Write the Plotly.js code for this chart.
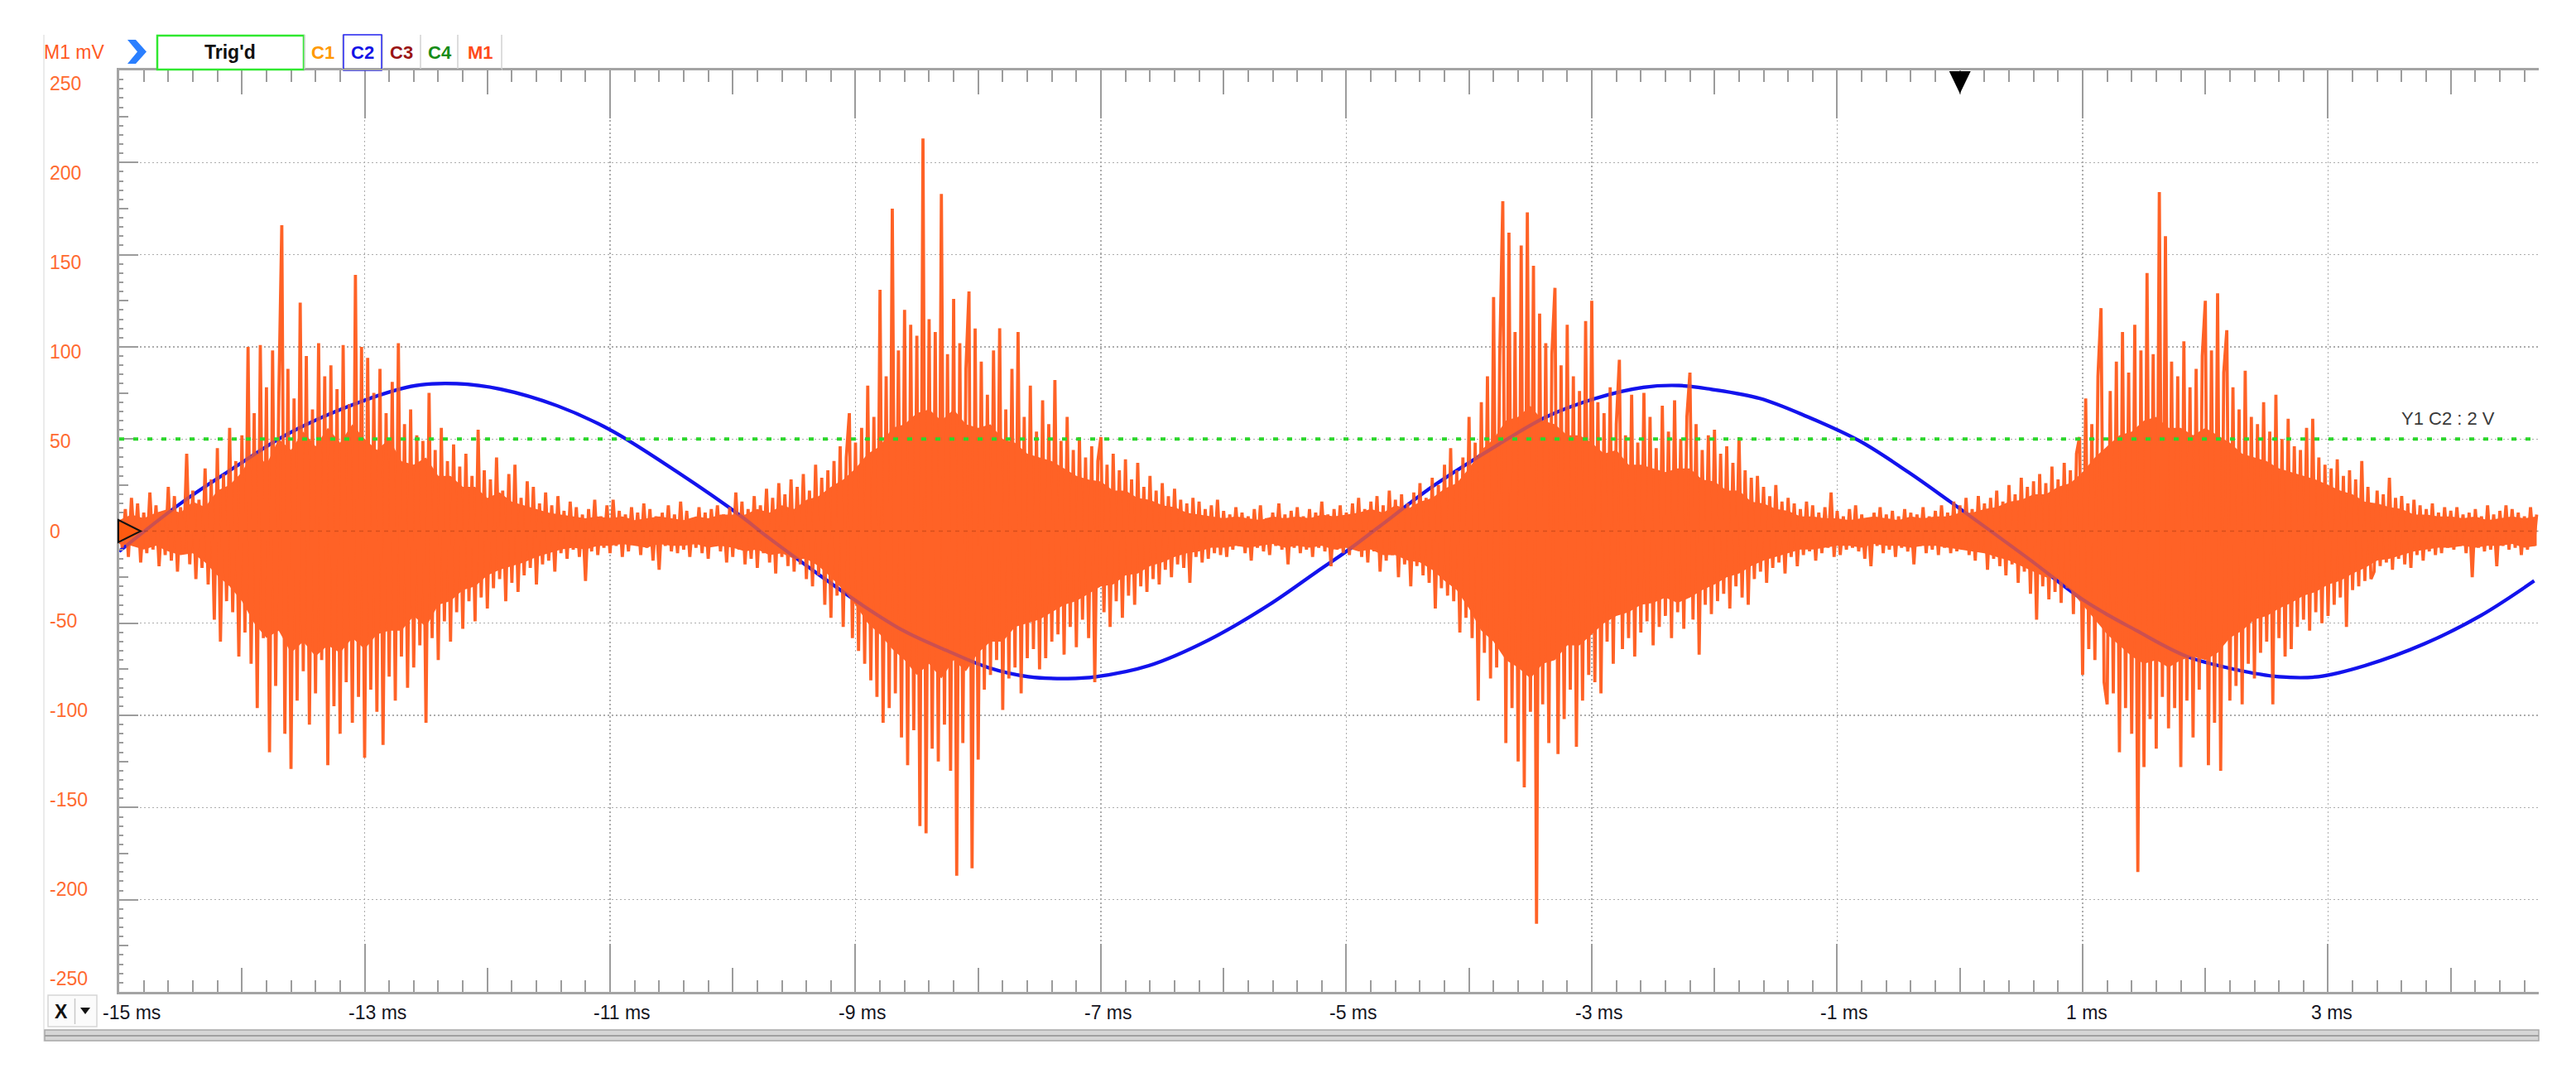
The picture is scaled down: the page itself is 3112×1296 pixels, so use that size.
<!DOCTYPE html>
<html>
<head>
<meta charset="utf-8">
<script src="https://cdn.plot.ly/plotly-3.0.1.min.js"></script>
<style>
  html, body { margin: 0; padding: 0; background: #ffffff; }
  #chart { width: 3112px; height: 1296px; }
</style>
</head>
<body>
<div id="chart"></div>
<script>
// ---------------- DATA ----------------
// Time axis (ms) ticks with labels
const xTickValues = [-15, -13, -11, -9, -7, -5, -3, -1, 1, 3];
const xTickLabels = ['-15 ms', '-13 ms', '-11 ms', '-9 ms', '-7 ms', '-5 ms', '-3 ms', '-1 ms', '1 ms', '3 ms'];
// M1 axis (mV) ticks with labels
const yTickValues = [250, 200, 150, 100, 50, 0, -50, -100, -150, -200, -250];
const yTickLabels = ['250', '200', '150', '100', '50', '0', '-50', '-100', '-150', '-200', '-250'];

const c2Time = [-15, -14.5, -14.05, -13.62, -13.0, -12.58, -12.25, -11.89, -11.43, -11.0,
  -10.45, -9.93, -9.72, -9.29, -8.97, -8.61, -8.25, -7.92, -7.59, -7.27,
  -7.04, -6.61, -6.12, -5.63, -5.24, -5.0, -4.74, -4.28, -3.76, -3.37,
  -2.97, -2.58, -2.29, -2.03, -1.63, -1.24, -0.82, -0.42, -0.08, 0.56,
  1.02, 1.44, 1.85, 2.24, 2.6, 2.92, 3.3, 3.79, 4.24, 4.68];
const c2Values = [-11, 15, 35, 53, 71, 79, 80, 77, 68, 55,
  32, 8, -3, -24, -39, -54, -65, -74, -79, -80,
  -79, -73, -59, -40, -22, -11, 2, 25, 47, 62,
  72, 78, 79, 77, 72, 62, 49, 32, 16, -15,
  -38, -54, -68, -75, -79, -79, -73, -61, -46, -27];

// Math channel M1 (orange, mV), individual spikes read every 0.025 ms starting at -15 ms
const m1Start = -15;
const m1Step = 0.025;
const m1Values = [
  // -15 ms
  4,-9,12,-14,18,-8,15,-17,10,-12,21,-10,14,-19,9,-13,24,-16,19,-22,13,-11,42,-18,22,-26,17,-20,34,-29,28,-48,45,-60,31,-38,56,-44,38,-68,
  // -14 ms
  52,-55,100,-72,64,-96,101,-58,78,-120,98,-84,70,166,-110,88,-129,72,-92,124,-76,95,-105,66,-88,102,-70,84,-127,90,-95,77,-110,101,-82,69,-104,139,-90,100,
  // -13 ms
  -123,94,-86,75,-98,88,-116,64,-79,81,-92,102,-68,58,-85,66,-74,52,-62,49,-104,75,-58,44,-70,56,-49,38,-60,47,-44,35,-53,42,-38,30,-49,55,-36,33,
  // -12 ms
  -42,28,-31,40,-26,22,-38,31,-28,36,-33,18,-24,27,-20,24,-29,15,-18,21,-16,14,-22,19,-12,11,-15,16,-10,13,-14,9,-27,12,-11,17,-13,8,-9,14,
  // -11 ms
  -12,17,-8,11,-14,9,-11,13,-7,10,-13,15,-9,12,-16,8,-21,10,-8,14,-11,9,-12,16,-10,11,-14,7,-9,13,-12,10,-15,12,-8,14,-11,9,-17,13,
  // -10 ms
  -14,21,-10,16,-18,12,-15,19,-20,14,-12,23,-17,18,-23,26,-14,20,-19,28,-22,24,-18,31,-26,22,-30,36,-24,29,-40,33,-47,38,-35,46,-52,40,64,-58,
  // -9 ms
  48,-65,56,-72,79,-81,62,-90,131,-104,84,-96,175,-88,98,-112,120,-127,112,-108,106,-160,213,-164,115,-118,108,-125,183,-105,96,-130,126,-187,102,-115,88,130,-183,110,
  // -8 ms
  -124,92,-86,74,-78,98,-70,110,-97,66,-80,88,-74,108,-88,62,-69,79,-64,54,-75,71,-69,58,-60,82,-56,49,-67,62,-52,44,-63,51,-48,40,-58,46,-82,38,
  // -7 ms
  51,-44,36,-52,42,-38,33,-47,39,-35,28,-40,37,-30,24,-33,30,-26,22,-29,26,-21,19,-25,23,-18,17,-20,15,-28,18,-14,16,-17,12,-15,14,-12,17,-13,
  // -6 ms
  11,-14,9,-10,13,-8,10,-12,8,-16,12,-9,14,-11,7,-13,10,-8,15,-10,9,-18,11,-9,13,-12,8,-10,12,-14,10,-9,16,-11,9,-19,12,-10,14,-12,
  // -5 ms
  10,-13,15,-9,18,-14,12,-17,16,-11,19,-22,14,-16,22,-13,17,-25,20,-18,15,-30,21,-19,26,-24,18,-28,29,-42,25,-31,36,-35,45,-38,33,-55,40,-47,
  // -4 ms
  62,-58,48,-92,70,-66,84,-80,127,-74,95,179,-115,162,-96,108,-125,155,-139,173,-98,144,-213,118,-94,102,-115,96,132,-121,90,-102,112,-86,84,-117,76,-92,114,-78,
  // -3 ms
  125,-82,70,-88,64,-60,78,-72,58,93,-64,52,-58,74,-68,48,-55,75,-49,62,-62,45,-52,68,-46,54,-58,71,-44,50,-53,62,86,-48,58,-67,44,-40,52,-45,
  // -2 ms
  55,-38,42,-34,46,-42,37,-30,51,-36,33,-40,29,-26,30,-22,24,-28,19,-20,25,-17,16,-23,18,-14,15,-19,12,-13,16,-11,14,-16,10,-12,13,-9,21,-14,
  // -1 ms
  11,-13,8,-10,12,-9,14,-11,9,-15,7,-19,10,-8,13,-12,9,-10,11,-14,8,-9,12,-11,10,-18,9,-8,13,-12,8,-10,11,-13,14,-9,10,-12,16,-11,
  // 0 ms
  14,-10,18,-13,12,-16,19,-11,15,-21,18,-15,22,-19,16,-24,25,-18,20,-28,29,-22,24,-34,27,-48,31,-30,26,-37,35,-33,28,-39,37,-31,33,-45,42,51,
  // 1 ms
  -78,72,-64,58,-70,84,121,-82,-94,76,-88,92,-120,108,-96,86,-110,112,-185,98,-128,140,-102,96,-118,184,-90,160,-107,92,-96,84,-128,103,-92,78,-112,88,-86,95,
  // 2 ms
  125,-127,98,-104,129,-130,86,109,-92,78,-84,66,-94,87,-72,62,-80,58,-66,70,-60,54,-94,74,-58,50,-68,61,-64,46,-52,44,-48,56,-54,61,-44,40,-50,36,
  // 3 ms
  -46,34,-40,39,-36,30,-52,33,-32,28,-30,38,-27,24,-26,-22,22,-19,20,-17,29,-21,18,-15,19,-18,15,-20,17,-13,14,-16,12,-11,15,-13,10,-12,13,-9,
  // 4 ms
  11,-10,13,-8,9,-12,10,-25,12,-9,8,-11,14,-10,9,-19,11,-8,14,-10,12,-9,10,-13,8,-10,13,-8,9
];

// Solid (densely sampled) part of M1, upper and lower edge read every 0.1 ms from -15 ms (mV)
const m1BandStart = -15;
const m1BandStep = 0.1;
const m1BandUpper = [
  6, 9, 7, 10, 12, 10, 16, 13, 22, 25,
  32, 44, 36, 50, 44, 54, 46, 56, 48, 58,
  50, 44, 50, 38, 36, 40, 30, 30, 24, 24,
  18, 21, 16, 14, 12, 10, 9, 8, 7, 8,
  7, 8, 6, 7, 8, 7, 6, 8, 7, 9,
  9, 9, 12, 10, 14, 12, 17, 19, 24, 28,
  34, 42, 46, 56, 58, 64, 66, 60, 66, 58,
  56, 58, 50, 48, 42, 40, 38, 34, 30, 28,
  27, 22, 22, 18, 17, 14, 13, 10, 9, 8,
  7, 8, 7, 6, 8, 7, 8, 7, 9, 8,
  9, 10, 12, 10, 14, 12, 16, 18, 23, 26,
  34, 44, 50, 60, 62, 68, 60, 58, 52, 52,
  48, 42, 44, 36, 36, 34, 32, 34, 34, 28,
  27, 22, 22, 16, 15, 12, 11, 8, 8, 7,
  7, 6, 7, 8, 7, 6, 8, 7, 8, 8,
  10, 10, 12, 13, 16, 17, 20, 20, 24, 26,
  32, 40, 46, 52, 54, 60, 62, 56, 56, 52,
  56, 52, 48, 42, 40, 38, 34, 32, 30, 28,
  25, 22, 20, 16, 15, 13, 12, 9, 9, 8,
  8, 7, 8, 6, 7, 8, 7, 8];
const m1BandLower = [
  -7, -8, -10, -8, -11, -13, -12, -17, -24, -30,
  -38, -50, -58, -54, -66, -60, -68, -62, -66, -58,
  -64, -56, -54, -54, -46, -52, -40, -38, -32, -30,
  -24, -21, -19, -17, -14, -12, -10, -9, -10, -8,
  -8, -7, -8, -9, -7, -8, -8, -7, -9, -8,
  -9, -11, -10, -13, -12, -15, -15, -19, -25, -32,
  -40, -50, -56, -64, -70, -78, -72, -80, -70, -76,
  -66, -60, -60, -52, -50, -48, -44, -40, -38, -34,
  -30, -29, -24, -23, -19, -17, -14, -12, -11, -9,
  -9, -8, -9, -8, -7, -9, -8, -9, -8, -10,
  -9, -11, -10, -13, -13, -16, -17, -21, -27, -32,
  -42, -54, -60, -70, -74, -80, -72, -70, -62, -62,
  -56, -50, -46, -44, -40, -39, -36, -39, -36, -32,
  -29, -25, -23, -19, -16, -14, -12, -10, -10, -9,
  -8, -8, -9, -7, -8, -8, -9, -8, -8, -9,
  -10, -11, -12, -14, -16, -19, -22, -25, -26, -32,
  -40, -48, -56, -62, -68, -72, -70, -74, -70, -68,
  -70, -66, -58, -54, -48, -46, -42, -39, -35, -33,
  -29, -27, -23, -20, -16, -15, -13, -11, -10, -9,
  -9, -8, -9, -8, -8, -7, -9, -8];

// Cursors / markers
const cursorLevel = 50;            // Y1 cursor level on the M1 scale
const cursorLabel = 'Y1 C2 : 2 V';
const triggerTime = 0;             // trigger position (ms)
const m1Offset = 0;                // M1 ground reference level
const toolbarTabs = ['C1', 'C2', 'C3', 'C4', 'M1'];
const tabColors = ['#FF9900', '#1414E6', '#9A1414', '#168C16', '#FF4A1A'];

// ---------------- LAYOUT HELPERS ----------------
const W = 3112, H = 1296;
const PL = 144, PR = 3067, PT = 85, PB = 1198;
const px2x = px => (px - PL) / (PR - PL);
const py2y = py => (PB - py) / (PB - PT);
const pathPx = pts => 'M' + pts.map(p => px2x(p[0]).toFixed(5) + ',' + py2y(p[1]).toFixed(5)).join(' L') + ' Z';
const FONT = 'Liberation Sans, Arial, sans-serif';
const TICK_COL = '#9c9c9c';
const X_RANGE = [-15, 4.717];
const Y_RANGE = [-250, 250];
const M1_COLOR = '#FF6226';
const C2_COLOR = '#1414EE';

// ---------------- TRACES ----------------
const traces = [
  { // C2 sine
    type: 'scatter', mode: 'lines', name: 'C2',
    x: c2Time, y: c2Values, xaxis: 'x', yaxis: 'y',
    line: { color: C2_COLOR, width: 4.2, shape: 'spline', smoothing: 1 },
    hoverinfo: 'skip'
  },
  { // M1 dense band, lower edge
    type: 'scatter', mode: 'lines', name: 'M1 band low',
    x0: m1BandStart, dx: m1BandStep, y: m1BandLower, xaxis: 'x', yaxis: 'y',
    line: { width: 0, color: M1_COLOR }, hoverinfo: 'skip'
  },
  { // M1 dense band, upper edge
    type: 'scatter', mode: 'lines', name: 'M1 band high',
    x0: m1BandStart, dx: m1BandStep, y: m1BandUpper, xaxis: 'x', yaxis: 'y',
    line: { width: 0, color: M1_COLOR }, fill: 'tonexty', fillcolor: M1_COLOR, hoverinfo: 'skip'
  },
  { // M1 samples
    type: 'scatter', mode: 'lines', name: 'M1',
    x0: m1Start, dx: m1Step, y: m1Values, xaxis: 'x', yaxis: 'y',
    line: { color: M1_COLOR, width: 3.8, simplify: false },
    hoverinfo: 'skip'
  },
  { // C2 seen through the M1 trace
    type: 'scatter', mode: 'lines', name: 'C2 overlay',
    x: c2Time, y: c2Values, xaxis: 'x2', yaxis: 'y2',
    line: { color: C2_COLOR, width: 4.2, shape: 'spline', smoothing: 1 },
    opacity: 0.22,
    hoverinfo: 'skip'
  }
];

// ---------------- ANNOTATIONS ----------------
const annotations = [];
xTickValues.forEach((v, i) => {
  annotations.push({
    xref: 'x', yref: 'paper', x: v, y: py2y(1223),
    xanchor: 'left', yanchor: 'middle', xshift: -22,
    text: xTickLabels[i], showarrow: false,
    font: { family: FONT, size: 23, color: '#15151f' }
  });
});
yTickValues.forEach((v, i) => {
  annotations.push({
    xref: 'paper', yref: 'y', x: 0, y: v,
    xanchor: 'left', yanchor: 'middle', xshift: -86, yshift: -v * 0.063,
    text: yTickLabels[i], showarrow: false,
    font: { family: FONT, size: 23, color: '#FF6A30' }
  });
});
// M1 mV unit label
annotations.push({ xref: 'paper', yref: 'paper', x: px2x(90), y: py2y(63), xanchor: 'center', yanchor: 'middle',
  text: 'M1 mV', showarrow: false, font: { family: FONT, size: 23, color: '#FF5A1F' } });
// Trig'd
annotations.push({ xref: 'paper', yref: 'paper', x: px2x(278), y: py2y(63), xanchor: 'center', yanchor: 'middle',
  text: "<b>Trig'd</b>", showarrow: false, font: { family: FONT, size: 23, color: '#111111' } });
// channel tabs
const tabCenters = [390, 438, 485, 531, 580];
toolbarTabs.forEach((t, i) => {
  annotations.push({ xref: 'paper', yref: 'paper', x: px2x(tabCenters[i]), y: py2y(63), xanchor: 'center', yanchor: 'middle',
    text: '<b>' + t + '</b>', showarrow: false, font: { family: FONT, size: 22, color: tabColors[i] } });
});
// X button
annotations.push({ xref: 'paper', yref: 'paper', x: px2x(74), y: py2y(1222), xanchor: 'center', yanchor: 'middle',
  text: '<b>X</b>', showarrow: false, font: { family: FONT, size: 23, color: '#111111' } });
// cursor label
annotations.push({ xref: 'paper', yref: 'y', x: px2x(2957), y: cursorLevel, xanchor: 'center', yanchor: 'middle', yshift: 25,
  text: cursorLabel, showarrow: false, font: { family: FONT, size: 22, color: '#3a3a3a' } });

// ---------------- SHAPES ----------------
const shapes = [];
// faint panel border
shapes.push({ type: 'line', xref: 'paper', yref: 'paper', x0: px2x(53), x1: px2x(53), y0: py2y(42), y1: py2y(1258),
  line: { color: '#e4e4e4', width: 1.5 } });
// blue chevron
shapes.push({ type: 'path', xref: 'paper', yref: 'paper', layer: 'above',
  path: pathPx([[154, 48], [164, 48], [177, 62.5], [164, 77], [154, 77], [166, 62.5]]),
  fillcolor: '#2A7FFF', line: { width: 0 } });
// Trig'd box
shapes.push({ type: 'rect', xref: 'paper', yref: 'paper', x0: px2x(190), x1: px2x(367), y0: py2y(84), y1: py2y(43),
  fillcolor: '#ffffff', line: { color: '#30E830', width: 2.5 } });
// tab separators
[368, 414, 462, 508, 553, 606].forEach(px => {
  shapes.push({ type: 'line', xref: 'paper', yref: 'paper', x0: px2x(px), x1: px2x(px), y0: py2y(42), y1: py2y(85),
    line: { color: '#d2d2d2', width: 1.5 } });
});
// C2 selected tab
shapes.push({ type: 'rect', xref: 'paper', yref: 'paper', x0: px2x(415), x1: px2x(461), y0: py2y(85), y1: py2y(42),
  line: { color: '#2222EE', width: 1.5 } });
// tabs bottom line
shapes.push({ type: 'line', xref: 'paper', yref: 'paper', x0: px2x(367), x1: px2x(606), y0: py2y(84), y1: py2y(84),
  line: { color: '#a4a4a4', width: 2 } });
// X button
shapes.push({ type: 'rect', xref: 'paper', yref: 'paper', x0: px2x(58), x1: px2x(117), y0: py2y(1240), y1: py2y(1202),
  fillcolor: '#fbfbfb', line: { color: '#d6d6d6', width: 1.5 } });
shapes.push({ type: 'line', xref: 'paper', yref: 'paper', x0: px2x(90.5), x1: px2x(90.5), y0: py2y(1206), y1: py2y(1237),
  line: { color: '#c8c8c8', width: 1.5 } });
shapes.push({ type: 'path', xref: 'paper', yref: 'paper', path: pathPx([[97, 1217], [109, 1217], [103, 1225]]),
  fillcolor: '#111111', line: { width: 0 } });
// scrollbar
shapes.push({ type: 'rect', xref: 'paper', yref: 'paper', x0: px2x(54), x1: px2x(3067), y0: py2y(1257), y1: py2y(1244),
  fillcolor: '#d6d6d6', line: { color: '#a8a8a8', width: 1.5 } });
shapes.push({ type: 'line', xref: 'paper', yref: 'paper', x0: px2x(54), x1: px2x(3067), y0: py2y(1251), y1: py2y(1251),
  line: { color: '#a0a0a0', width: 2 } });
// Y1 cursor (green dotted)
shapes.push({ type: 'line', xref: 'paper', yref: 'y', x0: 0, x1: 1, y0: cursorLevel, y1: cursorLevel, layer: 'above',
  line: { color: '#2BD62B', width: 4, dash: '6px,11px' } });
// M1 ground reference (faint dashed)
shapes.push({ type: 'line', xref: 'paper', yref: 'y', x0: 0, x1: 1, y0: m1Offset, y1: m1Offset, layer: 'above',
  line: { color: 'rgba(110,30,0,0.28)', width: 1.5, dash: '5px,5px' } });
// trigger marker (top)
shapes.push({ type: 'path', xref: 'x', xsizemode: 'pixel', xanchor: triggerTime, yref: 'paper', layer: 'above',
  path: 'M-13,' + py2y(86).toFixed(5) + ' L13,' + py2y(86).toFixed(5) + ' L0,' + py2y(113).toFixed(5) + ' Z',
  fillcolor: '#000000', line: { width: 0 } });
// M1 offset marker (left)
shapes.push({ type: 'path', xref: 'paper', yref: 'y', ysizemode: 'pixel', yanchor: m1Offset, layer: 'above',
  path: 'M' + px2x(143).toFixed(5) + ',13.5 L' + px2x(170).toFixed(5) + ',0 L' + px2x(143).toFixed(5) + ',-13.5 Z',
  fillcolor: '#FF5A10', line: { color: '#111111', width: 2 } });

// ---------------- AXES ----------------
const layout = {
  width: W, height: H,
  margin: { l: PL, r: W - PR, t: PT, b: H - PB, pad: 0 },
  paper_bgcolor: '#ffffff', plot_bgcolor: '#ffffff',
  showlegend: false,
  font: { family: FONT, size: 23 },
  xaxis: {
    range: X_RANGE, tickmode: 'linear', tick0: -15, dtick: 2,
    ticks: 'inside', ticklen: 58, tickwidth: 2, tickcolor: TICK_COL,
    showticklabels: false,
    showgrid: true, gridcolor: '#adadad', gridwidth: 1.3, griddash: '2px,3px',
    showline: true, linecolor: '#a4a4a4', linewidth: 3, mirror: 'ticks',
    zeroline: false, fixedrange: true,
    minor: { tick0: -15, dtick: 0.2, ticks: 'inside', ticklen: 14, tickwidth: 2, tickcolor: TICK_COL, showgrid: false }
  },
  xaxis2: {
    overlaying: 'x', anchor: 'y', range: X_RANGE,
    tickmode: 'linear', tick0: -14, dtick: 2,
    ticks: 'inside', ticklen: 29, tickwidth: 2, tickcolor: TICK_COL,
    showticklabels: false, showgrid: false, zeroline: false,
    showline: true, linecolor: '#a4a4a4', linewidth: 3, mirror: 'ticks', fixedrange: true
  },
  yaxis: {
    range: Y_RANGE, tickmode: 'linear', tick0: 0, dtick: 50,
    ticks: 'inside', ticklen: 23, tickwidth: 2, tickcolor: TICK_COL,
    showticklabels: false,
    showgrid: true, gridcolor: '#adadad', gridwidth: 1.3, griddash: '2px,3px',
    showline: true, linecolor: '#a4a4a4', linewidth: 3,
    zeroline: false, fixedrange: true,
    minor: { tick0: 0, dtick: 5, ticks: 'inside', ticklen: 4.5, tickwidth: 2, tickcolor: TICK_COL, showgrid: false }
  },
  yaxis2: {
    overlaying: 'y', anchor: 'x', range: Y_RANGE,
    tickmode: 'linear', tick0: 25, dtick: 50,
    ticks: 'inside', ticklen: 11, tickwidth: 2, tickcolor: TICK_COL,
    showticklabels: false, showgrid: false, zeroline: false,
    showline: true, linecolor: '#a4a4a4', linewidth: 3, fixedrange: true
  },
  annotations: annotations,
  shapes: shapes
};

Plotly.newPlot('chart', traces, layout, { staticPlot: true, displayModeBar: false });
</script>
</body>
</html>
